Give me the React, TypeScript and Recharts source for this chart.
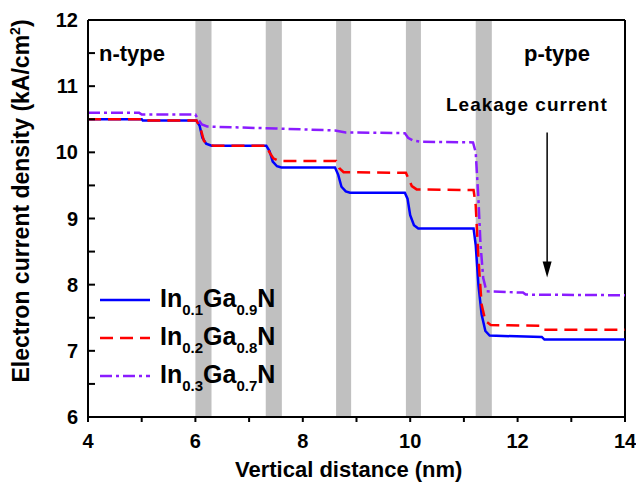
import React from "react";
import {
  LineChart,
  Line,
  XAxis,
  YAxis,
  ReferenceArea,
  ReferenceLine,
  ReferenceDot,
  Legend,
} from "recharts";

// [x (nm), current density (kA/cm2)]
const in01Ga09N: number[][] = [
  [4, 10.5], [5.0, 10.5], [5.02, 10.48], [6.02, 10.48], [6.08, 10.4],
  [6.13, 10.22], [6.2, 10.13], [6.3, 10.1], [7.32, 10.1], [7.38, 10.02],
  [7.44, 9.86], [7.52, 9.79], [7.6, 9.77], [8.6, 9.77], [8.66, 9.66],
  [8.72, 9.48], [8.8, 9.41], [8.88, 9.39], [9.9, 9.39], [9.95, 9.3],
  [10.0, 9.05], [10.07, 8.9], [10.15, 8.85], [11.18, 8.85], [11.22, 8.6],
  [11.27, 8.0], [11.33, 7.55], [11.4, 7.3], [11.48, 7.23], [12.45, 7.21],
  [12.5, 7.17], [14, 7.17],
];

const in02Ga08N: number[][] = [
  [4, 10.5], [5.0, 10.5], [5.02, 10.48], [6.02, 10.48], [6.1, 10.35],
  [6.16, 10.17], [6.25, 10.11], [6.35, 10.1], [7.32, 10.1], [7.38, 10.0],
  [7.45, 9.91], [7.55, 9.87], [8.62, 9.87], [8.68, 9.76], [8.76, 9.7],
  [9.92, 9.69], [9.97, 9.6], [10.03, 9.49], [10.12, 9.44], [11.18, 9.43],
  [11.22, 9.2], [11.27, 8.4], [11.33, 7.7], [11.4, 7.45], [11.5, 7.39],
  [12.42, 7.38], [12.48, 7.32], [14, 7.32],
];

const in03Ga07N: number[][] = [
  [4, 10.6], [4.95, 10.6], [5.0, 10.57], [6.0, 10.57], [6.05, 10.5],
  [6.12, 10.42], [6.22, 10.39], [7.5, 10.36], [8.6, 10.33], [8.8, 10.3],
  [9.9, 10.29], [9.96, 10.22], [10.05, 10.18], [10.2, 10.16], [11.17, 10.15],
  [11.22, 10.0], [11.27, 9.3], [11.31, 8.6], [11.36, 8.1], [11.42, 7.9],
  [12.1, 7.88], [12.15, 7.85], [14, 7.84],
];

const barrierStart = [6.0, 7.31, 8.62, 9.92, 11.22];
const barrierEnd = [6.3, 7.61, 8.9, 10.2, 11.52];

const xTicks = [4, 5, 6, 7, 8, 9, 10, 11, 12, 13, 14];
const yTicks = [6, 6.5, 7, 7.5, 8, 8.5, 9, 9.5, 10, 10.5, 11, 11.5, 12];

const series = [
  { name: "0.1|0.9", data: in01Ga09N, color: "#0000ff", dash: undefined },
  { name: "0.2|0.8", data: in02Ga08N, color: "#ff0000", dash: "13 7" },
  { name: "0.3|0.7", data: in03Ga07N, color: "#8a1cff", dash: "12 4 3 4" },
];

const FONT = "'Liberation Sans', Arial, sans-serif";

const XTick = (props: any) => {
  const { x, y, payload } = props;
  const v = payload.value;
  return (
    <g>
      <line x1={x} y1={y} x2={x} y2={y + 5} stroke="#000" strokeWidth={2} />
      {v % 2 === 0 && (
        <text x={x} y={y + 31} textAnchor="middle" fontSize={20} fontWeight="bold" fontFamily={FONT} fill="#000">
          {v}
        </text>
      )}
    </g>
  );
};

const YTick = (props: any) => {
  const { x, y, payload } = props;
  const v = payload.value;
  return (
    <g>
      <line x1={x} y1={y} x2={x + 7} y2={y} stroke="#000" strokeWidth={2} />
      {Number.isInteger(v) && (
        <text x={x - 10} y={y + 7} textAnchor="end" fontSize={20} fontWeight="bold" fontFamily={FONT} fill="#000">
          {v}
        </text>
      )}
    </g>
  );
};

const LegendBox = () => (
  <div style={{ fontFamily: FONT, fontWeight: "bold", color: "#000" }}>
    {series.map((s) => {
      const [a, b] = s.name.split("|");
      return (
        <div key={s.name} style={{ display: "flex", alignItems: "center", height: 38 }}>
          <svg width={54} height={10} style={{ marginRight: 8 }}>
            <line x1={2} y1={5} x2={52} y2={5} stroke={s.color} strokeWidth={2.5} strokeDasharray={s.dash} />
          </svg>
          <span style={{ fontSize: 25, lineHeight: "25px", whiteSpace: "nowrap" }}>
            In
            <span style={{ fontSize: 15, position: "relative", top: 8 }}>{a}</span>
            Ga
            <span style={{ fontSize: 15, position: "relative", top: 8 }}>{b}</span>N
          </span>
        </div>
      );
    })}
  </div>
);

export default function App() {
  const textStyle: React.CSSProperties = {
    position: "absolute",
    fontFamily: FONT,
    fontWeight: "bold",
    color: "#000",
    whiteSpace: "nowrap",
  };
  return (
    <div style={{ position: "absolute", left: 0, top: 0, width: 636, height: 490, background: "#fff" }}>
      <LineChart width={636} height={490} margin={{ top: 20, right: 11, left: 48, bottom: 43 }}>
        <XAxis
          type="number"
          dataKey="x"
          domain={[4, 14]}
          ticks={xTicks}
          allowDataOverflow
          height={30}
          tickSize={0}
          tickMargin={0}
          tickLine={false}
          tick={<XTick />}
          axisLine={{ stroke: "#000", strokeWidth: 2 }}
        />
        <YAxis
          type="number"
          domain={[6, 12]}
          ticks={yTicks}
          allowDataOverflow
          width={40}
          tickSize={0}
          tickMargin={0}
          tickLine={false}
          tick={<YTick />}
          axisLine={{ stroke: "#000", strokeWidth: 2 }}
        />
        {barrierStart.map((b, i) => (
          <ReferenceArea key={i} x1={b} x2={barrierEnd[i]} fill="#c0c0c0" fillOpacity={1} stroke="none" />
        ))}
        <ReferenceLine y={12} stroke="#000" strokeWidth={2} />
        <ReferenceLine x={14} stroke="#000" strokeWidth={2} />
        {series.map((s) => (
          <Line
            key={s.name}
            data={s.data.map(([x, y]) => ({ x, y }))}
            dataKey="y"
            type="linear"
            stroke={s.color}
            strokeWidth={2.5}
            strokeDasharray={s.dash}
            dot={false}
            isAnimationActive={false}
          />
        ))}
        <ReferenceLine
          segment={[{ x: 12.55, y: 10.3 }, { x: 12.55, y: 8.3 }]}
          stroke="#000"
          strokeWidth={1.5}
        />
        <ReferenceDot
          x={12.55}
          y={8.11}
          r={4}
          shape={(p: any) => (
            <polygon points={`${p.cx - 4.5},${p.cy - 16} ${p.cx + 4.5},${p.cy - 16} ${p.cx},${p.cy}`} fill="#000" />
          )}
        />
        <Legend
          layout="horizontal"
          verticalAlign="middle"
          align="center"
          content={<LegendBox />}
          wrapperStyle={{ position: "absolute", left: 98, top: 281, width: 220 }}
        />
      </LineChart>
      <div style={{ ...textStyle, left: 99, top: 41, fontSize: 22 }}>n-type</div>
      <div style={{ ...textStyle, left: 524, top: 41, fontSize: 22 }}>p-type</div>
      <div style={{ ...textStyle, left: 446, top: 94, fontSize: 19, letterSpacing: 1 }}>Leakage current</div>
      <div style={{ ...textStyle, left: 235, top: 457, fontSize: 22 }}>Vertical distance (nm)</div>
      <div
        style={{
          ...textStyle,
          left: 21,
          top: 201,
          fontSize: 23,
          transform: "translate(-50%, -50%) rotate(-90deg)",
        }}
      >
        Electron current density (kA/cm<sup style={{ fontSize: 14 }}>2</sup>)
      </div>
    </div>
  );
}
